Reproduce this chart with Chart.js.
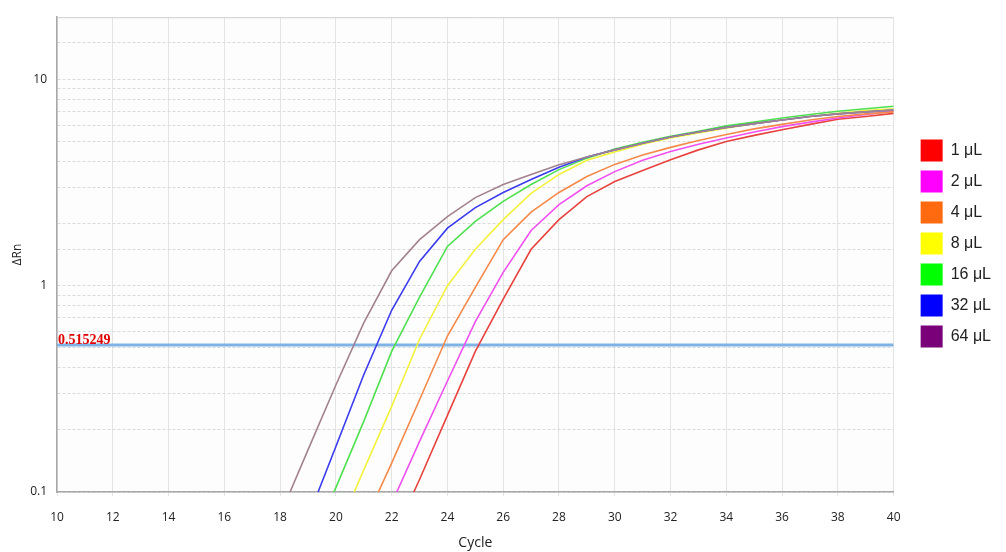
<!DOCTYPE html>
<html>
<head>
<meta charset="utf-8">
<script src="https://cdn.jsdelivr.net/npm/chart.js@4"></script>
<style>
  html, body { margin: 0; padding: 0; background: #fff; }
  #wrap { width: 1006px; height: 552px; }
</style>
</head>
<body>
<div id="wrap"><canvas id="amp"></canvas></div>
<script>
// amplification plot data (cycle 18..40)
const cycles = [18, 19, 20, 21, 22, 23, 24, 25, 26, 27, 28, 29, 30, 31, 32, 33, 34, 35, 36, 37, 38, 39, 40];
const labels = ['1 μL', '2 μL', '4 μL', '8 μL', '16 μL', '32 μL', '64 μL'];

const rn1  = [0.004, 0.008, 0.016, 0.03, 0.058, 0.115, 0.235, 0.48, 0.86, 1.5, 2.09, 2.7, 3.2, 3.61, 4.08, 4.55, 5.0, 5.35, 5.7, 6.05, 6.4, 6.6, 6.84];
const rn2  = [0.006, 0.012, 0.025, 0.05, 0.088, 0.176, 0.345, 0.67, 1.16, 1.85, 2.47, 3.05, 3.57, 4.05, 4.47, 4.85, 5.2, 5.55, 5.9, 6.2, 6.5, 6.75, 7.0];
const rn4  = [0.01, 0.02, 0.035, 0.07, 0.138, 0.28, 0.57, 0.98, 1.67, 2.27, 2.83, 3.38, 3.87, 4.3, 4.68, 5.05, 5.4, 5.75, 6.05, 6.35, 6.6, 6.8, 6.95];
const rn8  = [0.015, 0.03, 0.062, 0.128, 0.26, 0.55, 1.0, 1.5, 2.09, 2.8, 3.46, 4.05, 4.45, 4.85, 5.2, 5.5, 5.8, 6.1, 6.35, 6.6, 6.85, 7.05, 7.2];
const rn16 = [0.03, 0.05, 0.105, 0.22, 0.48, 0.88, 1.55, 2.05, 2.56, 3.09, 3.65, 4.15, 4.6, 4.95, 5.3, 5.6, 5.95, 6.2, 6.5, 6.75, 7.0, 7.2, 7.4];
const rn32 = [0.04, 0.075, 0.166, 0.37, 0.76, 1.31, 1.9, 2.39, 2.83, 3.27, 3.75, 4.2, 4.55, 4.9, 5.25, 5.55, 5.85, 6.1, 6.35, 6.6, 6.8, 6.95, 7.1];
const rn64 = [0.077, 0.16, 0.33, 0.66, 1.18, 1.67, 2.16, 2.67, 3.09, 3.46, 3.85, 4.2, 4.55, 4.9, 5.25, 5.55, 5.85, 6.1, 6.35, 6.6, 6.8, 6.95, 7.1];

const threshold = 0.515249;
const xTicks = [10, 12, 14, 16, 18, 20, 22, 24, 26, 28, 30, 32, 34, 36, 38, 40];
const yTickLabels = [0.1, 1, 10];

const series = [rn1, rn2, rn4, rn8, rn16, rn32, rn64];
// lines are a bit softer than the legend swatches in the original
const lineColors = ['#e8423f', '#f050f0', '#f5894a', '#f2f23c', '#4fe04f', '#3b3bf0', '#a3828f'];
const boxColors = ['#ff0000', '#ff00ff', '#ff6a10', '#ffff00', '#00ff00', '#0000ff', '#7a007a'];

const datasets = series.map((vals, i) => ({
    label: labels[i],
    data: vals.map((v, k) => ({ x: cycles[k], y: v })),
    borderColor: lineColors[i],
    backgroundColor: lineColors[i],
    borderWidth: 1.6,
    pointRadius: 0,
    tension: 0,
    order: 7 - i
}));

// threshold line
datasets.push({
    label: 'threshold',
    data: [{ x: xTicks[0], y: threshold }, { x: xTicks[xTicks.length - 1], y: threshold }],
    borderColor: '#7fb3e6',
    borderWidth: 3,
    pointRadius: 0,
    order: 10
});

// red threshold value written on the left of the line
const thresholdLabel = {
    id: 'thresholdLabel',
    afterDatasetsDraw(chart) {
        const { ctx, chartArea } = chart;
        const y = chart.scales.y.getPixelForValue(threshold);
        ctx.save();
        ctx.font = 'bold 14px "Liberation Serif", "Times New Roman", serif';
        ctx.fillStyle = '#e00000';
        ctx.textBaseline = 'alphabetic';
        ctx.fillText(threshold.toString(), chartArea.left + 1, y - 1);
        ctx.restore();
    }
};

// faint plot background and top border
const plotFrame = {
    id: 'plotFrame',
    beforeDraw(chart) {
        const { ctx, chartArea: a } = chart;
        ctx.save();
        ctx.fillStyle = '#fdfdfd';
        ctx.fillRect(a.left, a.top, a.right - a.left, a.bottom - a.top);
        ctx.restore();
    },
    afterDraw(chart) {
        const { ctx, chartArea: a } = chart;
        ctx.save();
        ctx.strokeStyle = '#d0d0d0';
        ctx.lineWidth = 1;
        ctx.beginPath();
        ctx.moveTo(a.left, a.top + 0.5);
        ctx.lineTo(a.right, a.top + 0.5);
        ctx.stroke();
        ctx.restore();
    }
};

const isDecade = (v) => yTickLabels.some(t => Math.abs(v - t) < t * 1e-6);

new Chart(document.getElementById('amp'), {
    type: 'line',
    data: { datasets },
    options: {
        responsive: true,
        maintainAspectRatio: false,
        animation: false,
        layout: { padding: { top: 12, left: 0, right: 5, bottom: 0 } },
        scales: {
            x: {
                type: 'linear',
                min: 10,
                max: 40,
                afterBuildTicks: (s) => { s.ticks = xTicks.map(v => ({ value: v })); },
                afterFit: (s) => { s.height = 60; },
                ticks: {
                    color: '#222',
                    font: { family: '"Open Sans", sans-serif', size: 12 },
                    padding: 14,
                    maxRotation: 0
                },
                grid: { color: '#e4e4e4', drawTicks: true, tickLength: 4 },
                border: { color: '#a8a8a8', width: 1.5 },
                title: {
                    display: true,
                    text: 'Cycle',
                    color: '#222',
                    font: { family: '"Open Sans", sans-serif', size: 14 },
                    padding: { top: 0, bottom: 1 }
                }
            },
            y: {
                type: 'logarithmic',
                min: 0.1,
                max: 20,
                afterFit: (s) => { s.width = 57; },
                ticks: {
                    autoSkip: false,
                    color: '#222',
                    font: { family: '"Open Sans", sans-serif', size: 12 },
                    padding: 10,
                    callback: (v) => isDecade(v) ? String(v) : ''
                },
                grid: {
                    color: (c) => c.tick && c.tick.value >= 20 ? 'rgba(0,0,0,0)' : '#dadada',
                    drawTicks: false
                },
                border: {
                    color: '#a8a8a8',
                    width: 1.5,
                    dash: [3, 2]
                },
                title: {
                    display: true,
                    text: 'ΔRn',
                    color: '#222',
                    font: { family: '"Open Sans", sans-serif', size: 12 },
                    padding: { top: 10, bottom: 0 }
                }
            },
            // empty spacer between the plot and the legend
            gap: {
                type: 'linear',
                position: 'right',
                display: true,
                afterFit: (s) => { s.width = 18; },
                grid: { display: false },
                border: { display: false },
                ticks: { display: false }
            }
        },
        plugins: {
            legend: {
                position: 'right',
                align: 'start',
                title: { display: true, text: ' ', padding: { top: 104, bottom: 0 }, font: { size: 12 } },
                labels: {
                    boxWidth: 22,
                    boxHeight: 22,
                    padding: 9,
                    color: '#222',
                    font: { family: '"Liberation Sans", Arial, sans-serif', size: 16 },
                    filter: (item) => item.text !== 'threshold',
                    generateLabels: (chart) => chart.data.datasets.map((d, i) => ({
                        text: d.label,
                        fillStyle: boxColors[i] || d.borderColor,
                        strokeStyle: boxColors[i] || d.borderColor,
                        lineWidth: 0,
                        fontColor: '#222',
                        datasetIndex: i
                    }))
                }
            },
            tooltip: { enabled: false }
        }
    },
    plugins: [plotFrame, thresholdLabel]
});
</script>
</body>
</html>
